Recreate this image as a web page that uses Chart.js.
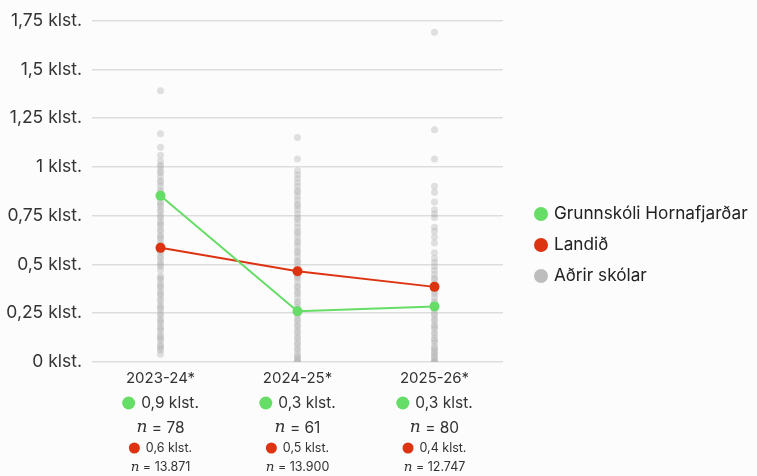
<!DOCTYPE html>
<html>
<head>
<meta charset="utf-8">
<script src="https://cdn.jsdelivr.net/npm/chart.js@4"></script>
<style>
  body { margin: 0; background: #fcfcfc; }
  #wrap { width: 757px; height: 476px; }
</style>
</head>
<body>
<div id="wrap"><canvas id="skjatimi"></canvas></div>
<script>
const years = ['2023-24*', '2024-25*', '2025-26*'];
const schoolValues = [0.852, 0.26, 0.285];
const nationalValues = [0.585, 0.465, 0.385];
const schoolN = [78, 61, 80];
const nationalN = [13871, 13900, 12747];
const yTicks = [0, 0.25, 0.5, 0.75, 1, 1.25, 1.5, 1.75];

// aðrir skólar, eitt gildi á hvern skóla
const others2023 = [1.39, 1.17, 1.10, 1.06, 1.03, 1.01, 1.00, 0.98, 0.97, 0.95, 0.93, 0.92, 0.90, 0.88, 0.87, 0.86, 0.84, 0.82, 0.81,
  0.80, 0.78, 0.77, 0.75, 0.74, 0.72, 0.71, 0.70, 0.68, 0.67, 0.65, 0.64, 0.63, 0.61, 0.60, 0.58, 0.57, 0.56, 0.54, 0.53, 0.51,
  0.50, 0.49, 0.47, 0.44, 0.43, 0.42, 0.40, 0.39, 0.38, 0.36, 0.35, 0.34, 0.32, 0.31, 0.29, 0.28, 0.27, 0.25, 0.24, 0.22,
  0.21, 0.20, 0.18, 0.17, 0.16, 0.14, 0.13, 0.12, 0.11, 0.09, 0.08, 0.07, 0.06, 0.04];
const others2024 = [1.15, 1.04, 0.98, 0.96, 0.94, 0.92, 0.90, 0.88, 0.87, 0.85, 0.83, 0.81, 0.80, 0.78, 0.76, 0.74, 0.73, 0.71,
  0.69, 0.67, 0.66, 0.64, 0.62, 0.61, 0.59, 0.57, 0.56, 0.54, 0.52, 0.51, 0.49, 0.47, 0.45, 0.44, 0.43, 0.41, 0.39, 0.38,
  0.36, 0.35, 0.33, 0.31, 0.30, 0.28, 0.27, 0.25, 0.24, 0.22, 0.21, 0.19, 0.18, 0.16, 0.15, 0.13, 0.12, 0.10, 0.09, 0.07,
  0.06, 0.04, 0.03, 0.02, 0.01, 0.00, 0.00];
const others2025 = [1.69, 1.19, 1.04, 0.90, 0.87, 0.82, 0.78, 0.76, 0.74, 0.69, 0.67, 0.64, 0.61, 0.56, 0.53, 0.51, 0.49, 0.47,
  0.45, 0.43, 0.42, 0.40, 0.38, 0.36, 0.35, 0.33, 0.31, 0.30, 0.28, 0.27, 0.25, 0.24, 0.22, 0.21, 0.19, 0.18, 0.17, 0.15,
  0.14, 0.12, 0.11, 0.10, 0.08, 0.07, 0.06, 0.05, 0.04, 0.03, 0.02, 0.01, 0.00, 0.00];
const othersByYear = [others2023, others2024, others2025];

const seriesNames = ['Grunnskóli Hornafjarðar', 'Landið', 'Aðrir skólar'];
const legendColors = ['#66dd66', '#dd3311', '#bdbdbd'];

const FONT = 'Inter, "Noto Sans", sans-serif';

function klst(v) {
  return String(v).replace('.', ',') + ' klst.';
}
function einn(v) {
  return (Math.round(v * 10) / 10).toFixed(1).replace('.', ',') + ' klst.';
}
function fjoldi(n) {
  return String(n).replace(/\B(?=(\d{3})+(?!\d))/g, '.');
}

const otherPoints = [];
othersByYear.forEach((list, i) => list.forEach(v => otherPoints.push({ x: years[i], y: v })));

// textinn undir x-ásnum og skýringin til hægri
const extraText = {
  id: 'extraText',
  afterDraw(chart) {
    const ctx = chart.ctx;
    const x = chart.scales.x;
    const area = chart.chartArea;
    const top = area.bottom;
    ctx.save();
    ctx.textBaseline = 'middle';
    years.forEach((yr, i) => {
      const cx = x.getPixelForValue(i);

      ctx.fillStyle = '#333';
      ctx.textAlign = 'center';
      ctx.font = '15px ' + FONT;
      ctx.fillText(yr, cx, top + 16);

      dotLine(ctx, cx, top + 41, legendColors[0], 6.5, einn(schoolValues[i]), 15.5);
      nLine(ctx, cx, top + 66, fjoldi(schoolN[i]), 17, 15.5);
      dotLine(ctx, cx, top + 86, legendColors[1], 5.5, einn(nationalValues[i]), 12.5);
      nLine(ctx, cx, top + 105, fjoldi(nationalN[i]), 13.5, 12.5);
    });

    // skýring
    const lx = area.right + 38;
    const midY = 245;
    ctx.font = '17.2px ' + FONT;
    ctx.textAlign = 'left';
    seriesNames.forEach((name, i) => {
      const y = midY + (i - 1) * 31;
      ctx.fillStyle = legendColors[i];
      ctx.beginPath();
      ctx.arc(lx, y, 7, 0, Math.PI * 2);
      ctx.fill();
      ctx.fillStyle = '#222';
      ctx.fillText(name, lx + 13, y);
    });
    ctx.restore();
  }
};

function dotLine(ctx, cx, y, color, r, text, size) {
  ctx.font = size + 'px ' + FONT;
  const w = ctx.measureText(text).width;
  const gap = 6;
  const start = cx - (r * 2 + gap + w) / 2;
  ctx.fillStyle = color;
  ctx.beginPath();
  ctx.arc(start + r, y, r, 0, Math.PI * 2);
  ctx.fill();
  ctx.fillStyle = '#333';
  ctx.textAlign = 'left';
  ctx.fillText(text, start + r * 2 + gap, y);
}

function nLine(ctx, cx, y, num, nSize, size) {
  const rest = ' = ' + num;
  ctx.font = 'italic ' + nSize + 'px "DejaVu Serif", serif';
  const wn = ctx.measureText('n').width;
  ctx.font = size + 'px ' + FONT;
  const wr = ctx.measureText(rest).width;
  const start = cx - (wn + wr) / 2;
  ctx.fillStyle = '#333';
  ctx.textAlign = 'left';
  ctx.font = 'italic ' + nSize + 'px "DejaVu Serif", serif';
  ctx.fillText('n', start, y);
  ctx.font = size + 'px ' + FONT;
  ctx.fillText(rest, start + wn, y);
}

new Chart(document.getElementById('skjatimi'), {
  type: 'line',
  data: {
    labels: years,
    datasets: [
      {
        label: seriesNames[0],
        data: schoolValues,
        borderColor: legendColors[0],
        backgroundColor: legendColors[0],
        borderWidth: 2,
        pointRadius: 5,
        pointBorderWidth: 0
      },
      {
        label: seriesNames[1],
        data: nationalValues,
        borderColor: legendColors[1],
        backgroundColor: legendColors[1],
        borderWidth: 2,
        pointRadius: 5,
        pointBorderWidth: 0
      },
      {
        label: seriesNames[2],
        data: otherPoints,
        showLine: false,
        backgroundColor: 'rgba(175,175,175,0.38)',
        borderColor: 'rgba(0,0,0,0)',
        pointRadius: 3.5,
        pointBorderWidth: 0
      }
    ]
  },
  options: {
    responsive: true,
    maintainAspectRatio: false,
    animation: false,
    layout: { padding: { top: 16, left: 0, right: 254, bottom: 0 } },
    plugins: {
      tooltip: { enabled: false },
      legend: { display: false }
    },
    scales: {
      x: {
        offset: true,
        grid: { display: false },
        border: { display: false },
        ticks: { display: false },
        afterFit(scale) { scale.height = 114; }
      },
      y: {
        min: 0,
        max: 1.75,
        afterBuildTicks(scale) { scale.ticks = yTicks.map(v => ({ value: v })); },
        afterFit(scale) { scale.width = 92; },
        grid: { color: '#dddddd', lineWidth: 1.5, drawTicks: false },
        border: { display: false },
        ticks: {
          padding: 10,
          color: '#333',
          font: { family: FONT, size: 17.5 },
          callback: v => klst(v)
        }
      }
    }
  },
  plugins: [extraText]
});
</script>
</body>
</html>
